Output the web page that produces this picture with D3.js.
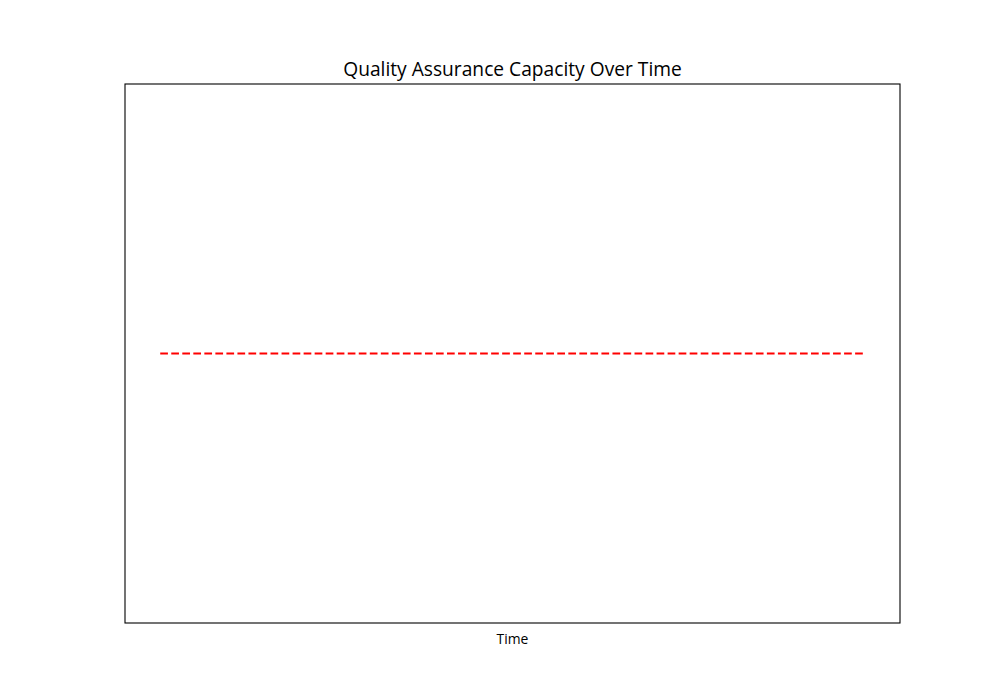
<!DOCTYPE html>
<html>
<head>
<meta charset="utf-8">
<script src="https://cdn.jsdelivr.net/npm/d3@7"></script>
<style>
  html, body { margin: 0; padding: 0; background: #fff; }
  svg { display: block; }
</style>
</head>
<body>
<div id="chart"></div>
<script>
// Data: constant capacity across time
const timePoints = ["T1", "T2", "T3", "T4", "T5", "T6", "T7", "T8", "T9", "T10", "T11", "T12"];
const capacityValues = [100, 100, 100, 100, 100, 100, 100, 100, 100, 100, 100, 100];
const chartTitle = "Quality Assurance Capacity Over Time";
const xLabel = "Time";

const W = 1000, H = 700;
const margin = { left: 125, right: 100, top: 84, bottom: 77 };
const iw = W - margin.left - margin.right;
const ih = H - margin.top - margin.bottom;

const svg = d3.select("#chart").append("svg").attr("width", W).attr("height", H);
const g = svg.append("g").attr("transform", `translate(${margin.left},${margin.top})`);

// 5% margin on each side like matplotlib
const pad = iw * 0.05 / 1.1;
const x = d3.scalePoint().domain(timePoints).range([pad, iw - pad]).padding(0);

const vmin = d3.min(capacityValues), vmax = d3.max(capacityValues);
const y = d3.scaleLinear().domain([vmin - 5, vmax + 5]).range([ih, 0]);

const line = d3.line()
  .x((d, i) => x(timePoints[i]))
  .y(d => y(d));

g.append("path")
  .datum(capacityValues)
  .attr("fill", "none")
  .attr("stroke", "#ff0000")
  .attr("stroke-width", 2.08)
  .attr("stroke-dasharray", "7.7,3.33")
  .attr("d", line);

g.append("rect")
  .attr("x", 0).attr("y", 0).attr("width", iw).attr("height", ih)
  .attr("fill", "none").attr("stroke", "#000").attr("stroke-width", 1.1);

const title = svg.append("text")
  .attr("x", margin.left + iw / 2)
  .attr("y", margin.top - 8)
  .attr("text-anchor", "middle")
  .attr("font-family", "'Open Sans', Roboto, sans-serif")
  .attr("font-size", "17.5px")
  .attr("fill", "#000")
  .text(chartTitle);
// fit title width to the reference (~339px)
const tl = title.node().getComputedTextLength();
if (tl > 0) title.attr("font-size", (17.5 * 339 / tl).toFixed(2) + "px");

svg.append("text")
  .attr("x", margin.left + iw / 2)
  .attr("y", margin.top + ih + 21)
  .attr("text-anchor", "middle")
  .attr("font-family", "'Open Sans', Roboto, sans-serif")
  .attr("font-size", "13.9px")
  .attr("fill", "#000")
  .text(xLabel);
</script>
</body>
</html>
